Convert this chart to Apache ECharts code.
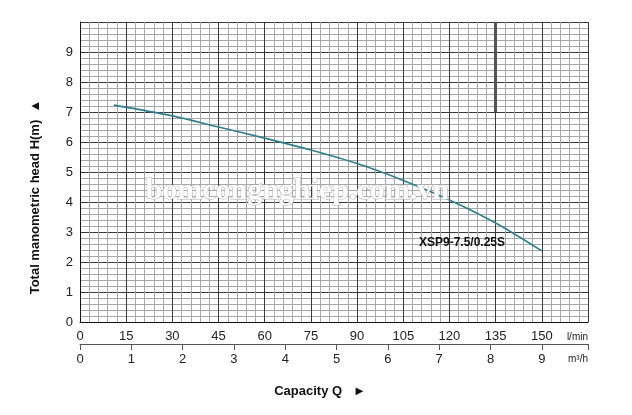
<!DOCTYPE html>
<html><head><meta charset="utf-8">
<script src="https://cdn.jsdelivr.net/npm/echarts@6/dist/echarts.min.js"></script>
<style>html,body{margin:0;padding:0;background:#fff}#c{width:632px;height:415px}</style>
</head><body><div id="c"></div>
<script>
const flowLmin = [11, 30, 45, 60, 75, 90, 105, 120, 135, 150];
const headM = [7.23, 6.87, 6.5, 6.13, 5.73, 5.28, 4.72, 4.07, 3.3, 2.37];
const seriesName = 'XSP9-7.5/0.25S';
const yTitle = 'Total manometric head H(m)  \u25B2';
const xTitle = 'Capacity Q   \u25BA';
const unitLmin = 'l/min';
const unitM3h = 'm\u00B3/h';
const watermark = 'bomcongnghiep.com.vn';

const chart = echarts.init(document.getElementById('c'), null, {renderer: 'canvas'});
const font = '"Liberation Sans", Arial, sans-serif';
const data = flowLmin.map((x, i) => [x, headM[i]]);
chart.setOption({
  animation: false,
  grid: {left: 80, right: 44, top: 22, bottom: 93},
  xAxis: [{
    type: 'value', min: 0, max: 165, interval: 15, position: 'bottom',
    axisLine: {show: true, lineStyle: {color: '#111', width: 1}},
    axisTick: {show: false},
    axisLabel: {color: '#222', fontSize: 13, fontFamily: font, margin: 8,
      formatter: v => v <= 150 ? String(v) : ''},
    splitLine: {show: true, lineStyle: {color: '#3a3a3a', width: 1}},
    minorTick: {show: false, splitNumber: 5},
    minorSplitLine: {show: true, lineStyle: {color: '#a8a8a8', width: 1}}
  }, {
    type: 'value', min: 0, max: 9.9, interval: 1, position: 'bottom', offset: 22,
    axisLine: {show: true, lineStyle: {color: '#555', width: 1}},
    axisTick: {show: true, inside: false, length: 6, lineStyle: {color: '#555'}},
    axisLabel: {color: '#222', fontSize: 13, fontFamily: font, margin: 9,
      formatter: v => v <= 9 ? String(v) : ''},
    splitLine: {show: false}
  }],
  yAxis: {
    type: 'value', min: 0, max: 10, interval: 1,
    axisLine: {show: true, lineStyle: {color: '#111', width: 1}},
    axisTick: {show: false},
    axisLabel: {color: '#222', fontSize: 13, fontFamily: font, margin: 7,
      formatter: v => v <= 9 ? String(v) : ''},
    splitLine: {show: true, lineStyle: {color: '#3a3a3a', width: 1}},
    minorTick: {show: false, splitNumber: 5},
    minorSplitLine: {show: true, lineStyle: {color: '#a8a8a8', width: 1}}
  },
  series: [{
    name: seriesName, type: 'line', smooth: 0.3, data: data, showSymbol: false,
    lineStyle: {color: '#2b7f8e', width: 1.6},
    markLine: {
      silent: true, symbol: ['none', 'none'], label: {show: false},
      lineStyle: {color: '#555', width: 3, type: 'solid'},
      data: [[{coord: [135, 10]}, {coord: [135, 7]}]]
    },
    z: 5
  }],
  graphic: [
    {type: 'text', left: 145, top: 176, z: 10,
      style: {text: watermark, fill: '#ffffff', stroke: '#b0b0b0', lineWidth: 1,
        font: 'bold 30px "Liberation Serif", serif',
        shadowBlur: 6, shadowColor: 'rgba(0,0,0,0.4)', shadowOffsetX: 2, shadowOffsetY: 3}},
    {type: 'text', x: 462, y: 243, z: 11,
      style: {text: seriesName, fill: '#111', font: 'bold 12px ' + font, align: 'center', verticalAlign: 'middle'}},
    {type: 'text', x: 588, y: 337,
      style: {text: unitLmin, fill: '#222', font: '10px ' + font, align: 'right', verticalAlign: 'middle'}},
    {type: 'text', x: 588, y: 359,
      style: {text: unitM3h, fill: '#222', font: '10px ' + font, align: 'right', verticalAlign: 'middle'}},
    {type: 'text', x: 320, y: 391,
      style: {text: xTitle, fill: '#111', font: 'bold 13px ' + font, align: 'center', verticalAlign: 'middle'}},
    {type: 'text', x: 35, y: 197, rotation: Math.PI / 2,
      style: {text: yTitle, fill: '#111', font: 'bold 13px ' + font, align: 'center', verticalAlign: 'middle'}}
  ]
});
</script></body></html>
